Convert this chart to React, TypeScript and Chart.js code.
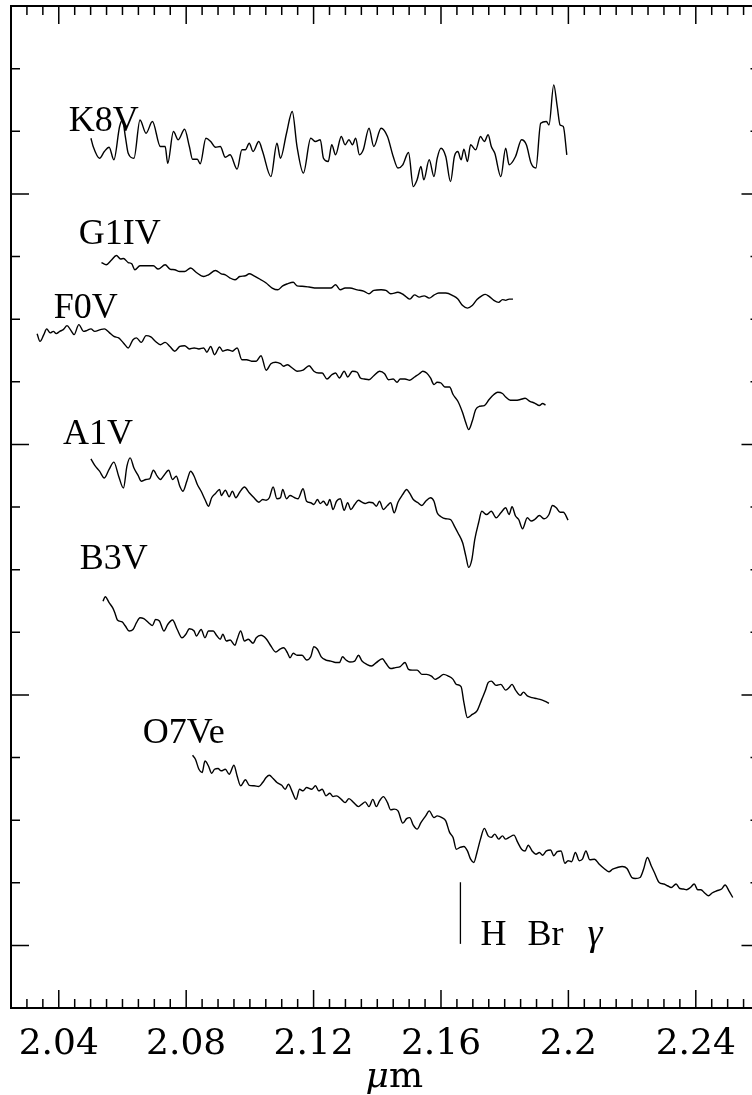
import React, { useEffect, useRef } from "react";
import { Chart, registerables } from "chart.js";

Chart.register(...registerables);

// Wavelength grids (micron) and offset normalised flux for each standard star.
const K8V_WL = [2.0501,2.0508,2.0528,2.0543,2.0558,2.0573,2.0591,2.0600,2.0609,2.0618,2.0636,2.0655,2.0674,2.0694,2.0719,2.0734,2.0742,2.0760,2.0775,2.0795,2.0810,2.0820,2.0835,2.0844,2.0862,2.0877,2.0892,2.0907,2.0923,2.0938,2.0960,2.0975,2.0986,2.0998,2.1010,2.1028,2.1040,2.1066,2.1085,2.1096,2.1115,2.1133,2.1148,2.1168,2.1191,2.1206,2.1221,2.1231,2.1246,2.1257,2.1269,2.1287,2.1299,2.1311,2.1322,2.1332,2.1344,2.1356,2.1374,2.1389,2.1412,2.1432,2.1450,2.1465,2.1480,2.1498,2.1513,2.1525,2.1537,2.1546,2.1563,2.1578,2.1588,2.1600,2.1615,2.1630,2.1642,2.1653,2.1663,2.1672,2.1683,2.1693,2.1709,2.1724,2.1736,2.1748,2.1758,2.1769,2.1788,2.1803,2.1814,2.1834,2.1853,2.1868,2.1883,2.1898,2.1913,2.1931,2.1939,2.1954,2.1965,2.1974,2.1984,2.1995];
const K8V_FLUX = [3.222,3.189,3.142,3.169,3.186,3.136,3.269,3.295,3.229,3.162,3.142,3.295,3.242,3.289,3.189,3.189,3.122,3.249,3.216,3.258,3.189,3.138,3.138,3.120,3.222,3.209,3.186,3.189,3.146,3.156,3.099,3.176,3.176,3.202,3.169,3.209,3.169,3.069,3.202,3.142,3.242,3.329,3.189,3.083,3.222,3.209,3.216,3.142,3.129,3.196,3.156,3.229,3.196,3.216,3.196,3.222,3.156,3.176,3.262,3.189,3.262,3.229,3.149,3.103,3.116,3.165,3.029,3.056,3.109,3.056,3.136,3.069,3.142,3.182,3.149,3.049,3.149,3.169,3.136,3.178,3.129,3.196,3.176,3.229,3.209,3.236,3.189,3.162,3.069,3.182,3.116,3.149,3.216,3.196,3.122,3.103,3.282,3.289,3.275,3.435,3.348,3.275,3.269,3.156];

const G1IV_WL = [2.0534,2.0549,2.0564,2.0581,2.0594,2.0603,2.0618,2.0629,2.0639,2.0655,2.0674,2.0697,2.0712,2.0734,2.0749,2.0764,2.0780,2.0795,2.0814,2.0832,2.0855,2.0870,2.0892,2.0910,2.0923,2.0938,2.0953,2.0968,2.0986,2.0998,2.1013,2.1035,2.1051,2.1070,2.1088,2.1103,2.1118,2.1136,2.1148,2.1164,2.1186,2.1209,2.1239,2.1254,2.1269,2.1284,2.1299,2.1314,2.1337,2.1359,2.1374,2.1389,2.1412,2.1427,2.1442,2.1465,2.1483,2.1502,2.1517,2.1532,2.1547,2.1563,2.1578,2.1593,2.1615,2.1638,2.1653,2.1668,2.1683,2.1698,2.1713,2.1728,2.1739,2.1751,2.1766,2.1781,2.1793,2.1803,2.1814,2.1826];
const G1IV_FLUX = [2.726,2.717,2.734,2.754,2.740,2.742,2.726,2.721,2.697,2.713,2.713,2.713,2.700,2.717,2.700,2.697,2.690,2.690,2.704,2.686,2.670,2.677,2.694,2.681,2.677,2.664,2.657,2.670,2.673,2.681,2.673,2.657,2.644,2.624,2.617,2.633,2.641,2.647,2.633,2.631,2.628,2.624,2.624,2.624,2.637,2.617,2.624,2.624,2.617,2.611,2.601,2.615,2.617,2.615,2.601,2.607,2.597,2.580,2.597,2.588,2.593,2.584,2.596,2.604,2.604,2.593,2.580,2.554,2.544,2.554,2.578,2.593,2.599,2.591,2.575,2.567,2.578,2.575,2.580,2.580];

const F0V_WL = [2.0332,2.0341,2.0353,2.0362,2.0373,2.0383,2.0392,2.0403,2.0414,2.0426,2.0438,2.0448,2.0463,2.0478,2.0489,2.0501,2.0513,2.0531,2.0543,2.0558,2.0573,2.0588,2.0603,2.0618,2.0633,2.0644,2.0659,2.0674,2.0689,2.0704,2.0719,2.0734,2.0749,2.0764,2.0780,2.0795,2.0810,2.0825,2.0840,2.0855,2.0865,2.0877,2.0889,2.0905,2.0915,2.0930,2.0945,2.0960,2.0975,2.0990,2.1005,2.1020,2.1035,2.1051,2.1066,2.1081,2.1096,2.1106,2.1118,2.1133,2.1148,2.1167,2.1186,2.1201,2.1216,2.1227,2.1242,2.1257,2.1269,2.1281,2.1296,2.1307,2.1322,2.1337,2.1347,2.1359,2.1374,2.1389,2.1407,2.1423,2.1435,2.1450,2.1462,2.1472,2.1487,2.1502,2.1517,2.1532,2.1543,2.1555,2.1567,2.1578,2.1588,2.1600,2.1612,2.1627,2.1638,2.1653,2.1668,2.1678,2.1687,2.1698,2.1709,2.1721,2.1736,2.1751,2.1766,2.1778,2.1793,2.1803,2.1818,2.1834,2.1849,2.1864,2.1879,2.1894,2.1909,2.1919,2.1928];
const F0V_FLUX = [2.442,2.411,2.438,2.461,2.445,2.451,2.442,2.451,2.458,2.474,2.455,2.438,2.478,2.451,2.455,2.461,2.451,2.458,2.461,2.447,2.431,2.425,2.405,2.385,2.418,2.425,2.407,2.434,2.429,2.411,2.398,2.407,2.391,2.372,2.391,2.394,2.381,2.385,2.381,2.385,2.368,2.391,2.358,2.389,2.372,2.378,2.372,2.385,2.338,2.338,2.332,2.332,2.354,2.296,2.322,2.328,2.322,2.312,2.318,2.305,2.292,2.296,2.314,2.292,2.285,2.285,2.261,2.278,2.285,2.265,2.292,2.269,2.292,2.288,2.265,2.261,2.258,2.274,2.292,2.282,2.258,2.261,2.248,2.261,2.261,2.256,2.269,2.282,2.292,2.285,2.265,2.239,2.248,2.245,2.229,2.229,2.199,2.172,2.126,2.086,2.059,2.092,2.139,2.152,2.155,2.179,2.199,2.208,2.203,2.189,2.176,2.176,2.179,2.184,2.172,2.165,2.155,2.163,2.157];

const A1V_WL = [2.0501,2.0513,2.0528,2.0543,2.0558,2.0573,2.0588,2.0603,2.0614,2.0624,2.0636,2.0649,2.0659,2.0674,2.0685,2.0697,2.0709,2.0719,2.0730,2.0745,2.0757,2.0769,2.0780,2.0790,2.0802,2.0814,2.0825,2.0835,2.0847,2.0859,2.0870,2.0880,2.0892,2.0905,2.0910,2.0923,2.0935,2.0945,2.0956,2.0968,2.0983,2.0998,2.1013,2.1028,2.1040,2.1051,2.1061,2.1073,2.1085,2.1096,2.1103,2.1115,2.1126,2.1141,2.1151,2.1167,2.1178,2.1191,2.1201,2.1212,2.1221,2.1231,2.1242,2.1251,2.1261,2.1272,2.1284,2.1296,2.1307,2.1317,2.1329,2.1341,2.1352,2.1362,2.1374,2.1386,2.1397,2.1407,2.1419,2.1432,2.1442,2.1453,2.1465,2.1480,2.1492,2.1502,2.1513,2.1528,2.1540,2.1552,2.1567,2.1578,2.1588,2.1600,2.1615,2.1630,2.1642,2.1653,2.1668,2.1678,2.1687,2.1697,2.1706,2.1718,2.1728,2.1743,2.1758,2.1773,2.1788,2.1803,2.1814,2.1823,2.1834,2.1844,2.1856,2.1871,2.1883,2.1894,2.1909,2.1924,2.1939,2.1950,2.1962,2.1974,2.1984,2.1999];
const A1V_FLUX = [1.942,1.916,1.893,1.866,1.900,1.929,1.873,1.826,1.913,1.946,1.906,1.876,1.853,1.860,1.862,1.897,1.873,1.860,1.876,1.897,1.860,1.873,1.833,1.813,1.853,1.893,1.873,1.840,1.813,1.780,1.753,1.787,1.804,1.820,1.796,1.817,1.791,1.813,1.787,1.809,1.830,1.807,1.787,1.769,1.780,1.777,1.787,1.830,1.783,1.787,1.820,1.783,1.796,1.787,1.783,1.823,1.773,1.767,1.760,1.780,1.764,1.773,1.756,1.780,1.740,1.773,1.783,1.737,1.767,1.740,1.760,1.777,1.769,1.764,1.769,1.767,1.753,1.773,1.740,1.756,1.767,1.727,1.769,1.800,1.820,1.804,1.780,1.767,1.756,1.773,1.787,1.773,1.727,1.711,1.703,1.700,1.674,1.647,1.607,1.554,1.509,1.541,1.620,1.687,1.733,1.720,1.733,1.707,1.727,1.747,1.720,1.751,1.714,1.700,1.663,1.707,1.694,1.700,1.716,1.703,1.720,1.756,1.747,1.729,1.729,1.698];

const B3V_WL = [2.0539,2.0546,2.0558,2.0569,2.0576,2.0584,2.0599,2.0609,2.0621,2.0633,2.0644,2.0655,2.0667,2.0682,2.0694,2.0704,2.0716,2.0730,2.0742,2.0757,2.0772,2.0787,2.0799,2.0810,2.0825,2.0832,2.0847,2.0859,2.0870,2.0885,2.0895,2.0907,2.0915,2.0926,2.0938,2.0953,2.0960,2.0971,2.0983,2.0995,2.1010,2.1020,2.1035,2.1051,2.1066,2.1081,2.1096,2.1106,2.1118,2.1126,2.1136,2.1148,2.1164,2.1178,2.1191,2.1201,2.1212,2.1224,2.1239,2.1254,2.1269,2.1281,2.1291,2.1302,2.1314,2.1329,2.1341,2.1352,2.1367,2.1382,2.1397,2.1416,2.1427,2.1442,2.1457,2.1472,2.1487,2.1498,2.1510,2.1525,2.1540,2.1555,2.1570,2.1582,2.1593,2.1608,2.1623,2.1638,2.1648,2.1663,2.1672,2.1683,2.1698,2.1713,2.1728,2.1739,2.1748,2.1758,2.1773,2.1788,2.1803,2.1814,2.1823,2.1834,2.1849,2.1859,2.1871,2.1886,2.1901,2.1916,2.1931,2.1939];
const B3V_FLUX = [1.374,1.392,1.368,1.348,1.328,1.299,1.291,1.275,1.255,1.261,1.288,1.308,1.304,1.288,1.277,1.301,1.295,1.255,1.281,1.299,1.261,1.228,1.242,1.264,1.255,1.235,1.261,1.228,1.255,1.255,1.238,1.222,1.242,1.215,1.219,1.198,1.222,1.255,1.215,1.222,1.206,1.228,1.238,1.224,1.195,1.171,1.184,1.188,1.168,1.148,1.166,1.158,1.158,1.139,1.152,1.192,1.182,1.152,1.139,1.135,1.129,1.129,1.152,1.139,1.131,1.135,1.158,1.135,1.122,1.115,1.129,1.144,1.126,1.105,1.109,1.113,1.129,1.102,1.099,1.099,1.082,1.082,1.075,1.062,1.069,1.082,1.075,1.062,1.042,1.033,0.969,0.909,0.922,0.936,0.982,1.016,1.049,1.055,1.038,1.042,1.019,1.029,1.042,1.019,0.998,1.011,0.996,0.989,0.985,0.980,0.972,0.966];

const O7VE_WL = [2.0820,2.0829,2.0840,2.0850,2.0859,2.0870,2.0880,2.0889,2.0900,2.0910,2.0923,2.0935,2.0950,2.0960,2.0971,2.0986,2.0998,2.1013,2.1028,2.1040,2.1051,2.1061,2.1073,2.1085,2.1100,2.1111,2.1121,2.1133,2.1145,2.1156,2.1167,2.1178,2.1194,2.1206,2.1216,2.1227,2.1239,2.1251,2.1261,2.1272,2.1287,2.1299,2.1311,2.1326,2.1341,2.1352,2.1362,2.1374,2.1386,2.1397,2.1407,2.1419,2.1432,2.1442,2.1453,2.1465,2.1480,2.1492,2.1502,2.1513,2.1525,2.1537,2.1552,2.1563,2.1578,2.1588,2.1603,2.1615,2.1627,2.1638,2.1648,2.1660,2.1672,2.1683,2.1693,2.1703,2.1713,2.1724,2.1736,2.1748,2.1758,2.1769,2.1781,2.1793,2.1803,2.1814,2.1829,2.1841,2.1853,2.1864,2.1874,2.1886,2.1898,2.1909,2.1919,2.1931,2.1944,2.1954,2.1965,2.1977,2.1989,2.1999,2.2010,2.2022,2.2034,2.2044,2.2055,2.2067,2.2082,2.2097,2.2112,2.2127,2.2139,2.2154,2.2169,2.2184,2.2199,2.2210,2.2225,2.2236,2.2248,2.2260,2.2270,2.2285,2.2300,2.2311,2.2323,2.2338,2.2350,2.2361,2.2371,2.2383,2.2395,2.2406,2.2416,2.2428,2.2440,2.2451,2.2466,2.2481,2.2492,2.2504,2.2516];
const O7VE_FLUX = [0.759,0.743,0.703,0.690,0.736,0.716,0.687,0.703,0.706,0.697,0.703,0.683,0.719,0.676,0.637,0.661,0.639,0.637,0.634,0.650,0.670,0.679,0.666,0.650,0.639,0.623,0.643,0.613,0.583,0.623,0.617,0.630,0.623,0.637,0.617,0.623,0.597,0.607,0.594,0.597,0.583,0.570,0.586,0.570,0.554,0.564,0.573,0.554,0.583,0.554,0.577,0.594,0.570,0.541,0.544,0.537,0.488,0.506,0.510,0.480,0.464,0.490,0.517,0.537,0.510,0.517,0.510,0.497,0.451,0.431,0.384,0.391,0.395,0.377,0.344,0.331,0.371,0.424,0.467,0.437,0.431,0.444,0.424,0.437,0.424,0.431,0.440,0.411,0.384,0.377,0.400,0.377,0.364,0.371,0.360,0.377,0.381,0.358,0.374,0.377,0.328,0.338,0.334,0.371,0.338,0.344,0.377,0.342,0.344,0.324,0.307,0.294,0.304,0.311,0.315,0.307,0.271,0.267,0.271,0.304,0.351,0.318,0.291,0.251,0.245,0.238,0.231,0.245,0.227,0.225,0.222,0.231,0.245,0.222,0.222,0.209,0.198,0.209,0.218,0.225,0.241,0.218,0.191];

const STAR_NAMES = ["K8V", "G1IV", "F0V", "A1V", "B3V", "O7Ve"];
const STAR_WL = [K8V_WL, G1IV_WL, F0V_WL, A1V_WL, B3V_WL, O7VE_WL];
const STAR_FLUX = [K8V_FLUX, G1IV_FLUX, F0V_FLUX, A1V_FLUX, B3V_FLUX, O7VE_FLUX];

// Where each spectral-type name sits (wavelength, flux of its baseline-left corner).
const NAME_ANCHORS = [
  [2.0431, 3.251],
  [2.0463, 2.801],
  [2.0384, 2.506],
  [2.0413, 2.002],
  [2.0466, 1.501],
  [2.0664, 0.807],
];

const X_TICKS = [2.04, 2.08, 2.12, 2.16, 2.2, 2.24];
const X_RANGE = [2.025, 2.26];
const Y_RANGE = [-0.25, 3.75];
const BR_GAMMA = 2.1661;
const BR_GAMMA_LABEL = ["H", "Br", "\u03b3"];
const X_TITLE = ["\u03bc", "m"];

const LABEL_FONT = '36px "Liberation Serif", serif';

const decorations = {
  id: "decorations",
  afterDraw(chart: any) {
    const { ctx, chartArea: a, scales } = chart;
    const xs = scales.x;
    const ys = scales.y;
    ctx.save();
    ctx.strokeStyle = "#000";
    ctx.fillStyle = "#000";

    // frame
    ctx.lineWidth = 2;
    ctx.strokeRect(a.left, a.top, a.right - a.left, a.bottom - a.top);

    // inward tick marks on all four sides
    ctx.lineWidth = 1.5;
    ctx.beginPath();
    const kx0 = Math.ceil(X_RANGE[0] / 0.005 - 1e-6);
    const kx1 = Math.floor(X_RANGE[1] / 0.005 + 1e-6);
    for (let k = kx0; k <= kx1; k++) {
      const px = xs.getPixelForValue(k * 0.005);
      const len = k % 8 === 0 ? 18 : 9;
      ctx.moveTo(px, a.bottom);
      ctx.lineTo(px, a.bottom - len);
      ctx.moveTo(px, a.top);
      ctx.lineTo(px, a.top + len);
    }
    for (let k = -1; k <= 15; k++) {
      const py = ys.getPixelForValue(k * 0.25);
      const len = k % 4 === 0 ? 18 : 9;
      ctx.moveTo(a.left, py);
      ctx.lineTo(a.left + len, py);
      ctx.moveTo(a.right, py);
      ctx.lineTo(a.right - len, py);
    }
    ctx.stroke();

    // spectral type names
    ctx.font = LABEL_FONT;
    ctx.textBaseline = "alphabetic";
    ctx.textAlign = "left";
    STAR_NAMES.forEach((name, i) => {
      const [w, f] = NAME_ANCHORS[i];
      ctx.fillText(name, xs.getPixelForValue(w), ys.getPixelForValue(f));
    });

    // Brackett gamma marker
    const bx = xs.getPixelForValue(BR_GAMMA);
    const by = ys.getPixelForValue(0.0);
    ctx.lineWidth = 1.3;
    ctx.beginPath();
    ctx.moveTo(bx, ys.getPixelForValue(0.252));
    ctx.lineTo(bx, ys.getPixelForValue(0.006));
    ctx.stroke();
    ctx.font = LABEL_FONT;
    ctx.fillText(BR_GAMMA_LABEL[0], bx + 20, by);
    ctx.fillText(BR_GAMMA_LABEL[1], bx + 67, by);
    ctx.font = 'italic 38px "Liberation Serif", serif';
    ctx.fillText(BR_GAMMA_LABEL[2], bx + 127, by);

    // axis title
    const cx = (a.left + a.right) / 2 + 9;
    const ty = a.bottom + 79;
    ctx.font = 'italic 36px "DejaVu Serif", serif';
    const wMu = ctx.measureText(X_TITLE[0]).width;
    ctx.font = '36px "DejaVu Serif", serif';
    const wM = ctx.measureText(X_TITLE[1]).width;
    const start = cx - (wMu + wM) / 2;
    ctx.font = 'italic 36px "DejaVu Serif", serif';
    ctx.fillText(X_TITLE[0], start, ty);
    ctx.font = '36px "DejaVu Serif", serif';
    ctx.fillText(X_TITLE[1], start + wMu, ty);

    ctx.restore();
  },
};

export default function App() {
  const ref = useRef<HTMLCanvasElement | null>(null);

  useEffect(() => {
    if (!ref.current) return;
    const chart = new Chart(ref.current, {
      type: "line",
      data: {
        datasets: STAR_NAMES.map((name, i) => ({
          label: name,
          data: STAR_WL[i].map((w, j) => ({ x: w, y: STAR_FLUX[i][j] })),
          borderColor: "#000",
          borderWidth: 1.4,
          pointRadius: 0,
          fill: false,
          cubicInterpolationMode: "monotone" as const,
        })),
      },
      options: {
        animation: false,
        responsive: false,
        devicePixelRatio: 1,
        events: [],
        layout: { padding: { left: 11, top: 6, right: 30.5, bottom: 0 } },
        plugins: { legend: { display: false }, tooltip: { enabled: false } },
        scales: {
          x: {
            type: "linear",
            min: X_RANGE[0],
            max: X_RANGE[1],
            border: { display: false },
            grid: { display: false, drawTicks: false },
            ticks: {
              autoSkip: false,
              maxRotation: 0,
              color: "#000",
              padding: 15,
              font: { family: '"DejaVu Serif", serif', size: 36 },
              callback: (v: any) => String(Number(v)),
            },
            afterBuildTicks: (axis: any) => {
              axis.ticks = X_TICKS.map((v) => ({ value: v }));
            },
            afterFit: (axis: any) => {
              axis.height = 87;
            },
          },
          y: {
            type: "linear",
            display: false,
            min: Y_RANGE[0],
            max: Y_RANGE[1],
          },
        },
      },
      plugins: [decorations],
    });
    return () => chart.destroy();
  }, []);

  return (
    <div
      style={{
        position: "fixed",
        left: 0,
        top: 0,
        width: 752,
        height: 1095,
        overflow: "hidden",
        background: "#fff",
      }}
    >
      <canvas ref={ref} width={790} height={1095} style={{ display: "block", width: 790, height: 1095 }} />
    </div>
  );
}
